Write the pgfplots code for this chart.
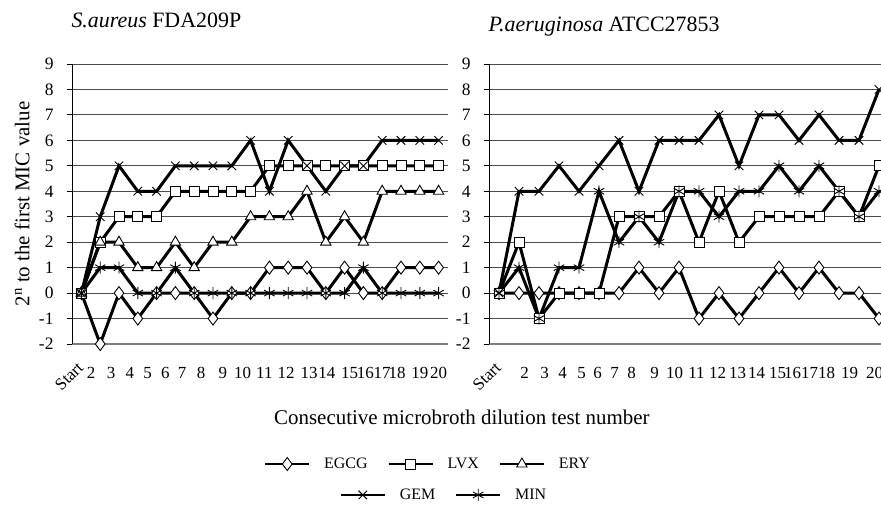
\documentclass[border=0pt]{standalone}
\usepackage{pgfplots}
\pgfplotsset{compat=1.18}
\usepackage{fontspec}
\setmainfont{Liberation Serif}
\newcommand{\tl}[2]{\makebox[0pt]{\hspace*{#1bp}#2}}
\newcommand{\startlbl}{\makebox[0pt][r]{\raisebox{-24bp}[0pt][0pt]{\rotatebox{45}{Start}}\hspace*{-3bp}}}
\pgfplotsset{
  base/.style={
    scale only axis, height=280bp,
    ymin=-2, ymax=9, xmin=-0.5, xmax=19.5,
    clip=false,
    axis lines*=left,
    x axis line style={draw=black!50, line width=1.5bp},
    y axis line style={draw=black, line width=1bp},
    ymajorgrids, major grid style={draw=black!70, line width=0.9bp},
    ytick={-2,...,9}, yticklabels={-2,-1,0,1,2,3,4,5,6,7,8,9},
    xtick={0,...,19},
    xtick style={draw=none},
    ytick style={draw=black, line width=0.9bp},
    tick align=outside, major tick length=5bp,
    xticklabel style={font=\fontsize{17}{20}\selectfont, yshift=-15bp},
    yticklabel style={font=\fontsize{17.5}{20}\selectfont, xshift=-10bp},
    every axis plot/.append style={line width=3bp, black},
    legend image code/.code={\draw[mark repeat=2,mark phase=2,##1, line width=2bp] plot coordinates {(0bp,0bp) (22bp,0bp) (44bp,0bp)};},
    legend style={draw=none, fill=none, font=\fontsize{16}{19}\selectfont,
      /tikz/every even column/.append style={column sep=18bp},
      /tikz/every odd column/.append style={column sep=12bp}},
    legend cell align=left,
    title style={anchor=west, font=\fontsize{22}{26}\selectfont},
  },
  sEGCG/.style={mark=diamond*, mark size=6.5bp, mark options={fill=white, line width=0.9bp}},
  sLVX/.style={mark=square*, mark size=5bp, mark options={fill=white, line width=0.9bp}},
  sERY/.style={mark=triangle*, mark size=6bp, mark options={fill=white, line width=0.9bp}},
  sGEM/.style={mark=x, mark size=6bp, mark options={line width=0.9bp}},
  sMIN/.style={mark=asterisk, mark size=6bp, mark options={line width=0.9bp}},
}
\begin{document}
\begin{tikzpicture}
\begin{axis}[base, at={(72bp,-344bp)}, anchor=south west, width=376bp,
  xticklabels={\startlbl,\tl{-18}{2},\tl{-16}{3},\tl{-16}{4},\tl{-18}{5},\tl{-20}{6},\tl{-24}{7},\tl{-24}{8},\tl{-18}{9},\tl{-16}{10},\tl{-10}{11},\tl{-4}{12},\tl{4}{13},\tl{2}{14},\tl{10}{15},\tl{4}{16},\tl{0}{17},\tl{-8}{18},\tl{0}{19},\tl{0}{20}},
  title={\textit{S.aureus} FDA209P},
  title style={at={(axis description cs:-0.0106,1.135)}},
  xlabel={Consecutive microbroth dilution test number},
  xlabel style={at={(axis description cs:1.037,-0.261)}, anchor=center, font=\fontsize{21}{25}\selectfont},
  ylabel={2\textsuperscript{n} to the first MIC value},
  ylabel style={at={(axis description cs:-0.133,0.5)}, anchor=center, font=\fontsize{21}{25}\selectfont},
  legend columns=3,
  legend style={at={(axis description cs:0.947,-0.4286)}, anchor=center},
]
\addplot[sEGCG] coordinates {(0,0) (1,-2) (2,0) (3,-1) (4,0) (5,0) (6,0) (7,-1) (8,0) (9,0) (10,1) (11,1) (12,1) (13,0) (14,1) (15,0) (16,0) (17,1) (18,1) (19,1)};
\addplot[sLVX] coordinates {(0,0) (1,2) (2,3) (3,3) (4,3) (5,4) (6,4) (7,4) (8,4) (9,4) (10,5) (11,5) (12,5) (13,5) (14,5) (15,5) (16,5) (17,5) (18,5) (19,5)};
\addplot[sERY] coordinates {(0,0) (1,2) (2,2) (3,1) (4,1) (5,2) (6,1) (7,2) (8,2) (9,3) (10,3) (11,3) (12,4) (13,2) (14,3) (15,2) (16,4) (17,4) (18,4) (19,4)};
\addplot[sGEM, forget plot] coordinates {(0,0) (1,3) (2,5) (3,4) (4,4) (5,5) (6,5) (7,5) (8,5) (9,6) (10,4) (11,6) (12,5) (13,4) (14,5) (15,5) (16,6) (17,6) (18,6) (19,6)};
\addplot[sMIN, forget plot] coordinates {(0,0) (1,1) (2,1) (3,0) (4,0) (5,1) (6,0) (7,0) (8,0) (9,0) (10,0) (11,0) (12,0) (13,0) (14,0) (15,1) (16,0) (17,0) (18,0) (19,0)};
\legend{EGCG,LVX,ERY}
\end{axis}
\begin{axis}[base, at={(489bp,-344bp)}, anchor=south west, width=400bp,
  xticklabels={\startlbl,\tl{11}{2},\tl{11}{3},\tl{7}{4},\tl{5}{5},\tl{-3}{6},\tl{-9}{7},\tl{-15}{8},\tl{-9}{9},\tl{-9}{10},\tl{-5}{11},\tl{-3}{12},\tl{-3}{13},\tl{-5}{14},\tl{-3}{15},\tl{-13}{16},\tl{-19}{17},\tl{-25}{18},\tl{-19}{19},\tl{-9}{20}},
  title={\textit{P.aeruginosa} ATCC27853},
  title style={at={(axis description cs:-0.01,1.114)}},
  legend columns=2,
  legend style={at={(axis description cs:-0.1125,-0.539)}, anchor=center},
]
\addplot[sEGCG, forget plot] coordinates {(0,0) (1,0) (2,0) (3,0) (4,0) (5,0) (6,0) (7,1) (8,0) (9,1) (10,-1) (11,0) (12,-1) (13,0) (14,1) (15,0) (16,1) (17,0) (18,0) (19,-1)};
\addplot[sLVX, forget plot] coordinates {(0,0) (1,2) (2,-1) (3,0) (4,0) (5,0) (6,3) (7,3) (8,3) (9,4) (10,2) (11,4) (12,2) (13,3) (14,3) (15,3) (16,3) (17,4) (18,3) (19,5)};
\addplot[sGEM] coordinates {(0,0) (1,4) (2,4) (3,5) (4,4) (5,5) (6,6) (7,4) (8,6) (9,6) (10,6) (11,7) (12,5) (13,7) (14,7) (15,6) (16,7) (17,6) (18,6) (19,8)};
\addplot[sMIN] coordinates {(0,0) (1,1) (2,-1) (3,1) (4,1) (5,4) (6,2) (7,3) (8,2) (9,4) (10,4) (11,3) (12,4) (13,4) (14,5) (15,4) (16,5) (17,4) (18,3) (19,4)};
\legend{GEM,MIN}
\end{axis}
\pgfresetboundingbox
\useasboundingbox (0bp,0bp) rectangle (881bp,-510bp);
\end{tikzpicture}
\end{document}
